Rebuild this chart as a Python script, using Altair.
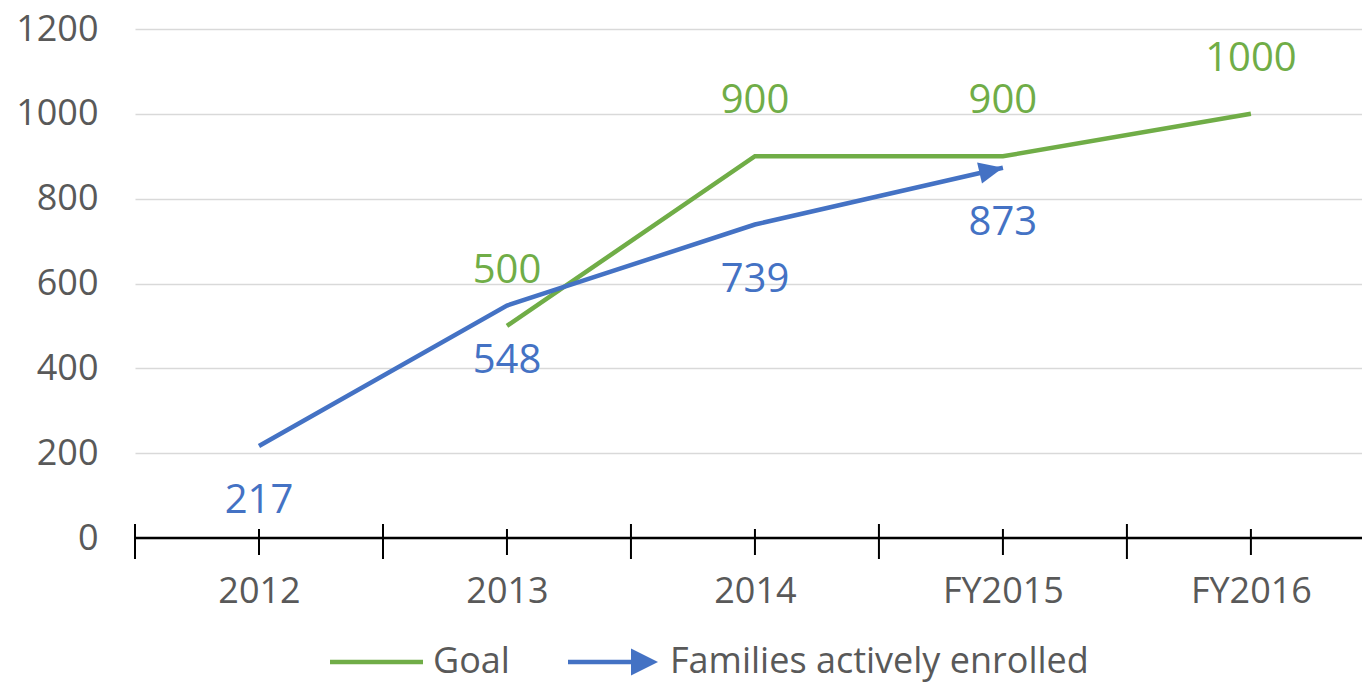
import json
import altair as alt
import pandas as pd

# ---- data ----
categories = ["2012", "2013", "2014", "FY2015", "FY2016"]
goal_values = [None, 500, 900, 900, 1000]
families_values = [217, 548, 739, 873, None]
y_ticks = [0, 200, 400, 600, 800, 1000, 1200]
series_names = ["Goal", "Families actively enrolled"]

GREEN = "#70AD47"
BLUE = "#4472C4"
GRAY = "#595959"
FONT = "Open Sans"

rows = []
for i, c in enumerate(categories):
    if goal_values[i] is not None:
        rows.append(dict(idx=i, cat=c, series=series_names[0], value=goal_values[i]))
    if families_values[i] is not None:
        rows.append(dict(idx=i, cat=c, series=series_names[1], value=families_values[i]))
df = pd.DataFrame(rows)
goal_df = df[df.series == series_names[0]]
fam_df = df[df.series == series_names[1]]
fam_last = fam_df[fam_df.idx == fam_df.idx.max()]

boundaries = pd.DataFrame({"idx": [i - 0.5 for i in range(len(categories) + 1)]})
centers = pd.DataFrame({"idx": list(range(len(categories)))})

W, H = 1227, 509
x_scale = alt.Scale(domain=[-0.5, 4.448], nice=False, zero=False)
y_scale = alt.Scale(domain=[0, 1200], nice=False)

x_axis = alt.Axis(
    values=list(range(len(categories))),
    labelExpr=f"{json.dumps(categories)}[datum.value]",
    domain=False, ticks=False, tickSize=0, grid=False,
    labelFontSize=36, labelColor=GRAY, labelFont=FONT, labelPadding=36,
    labelFlush=False, labelOverlap=False, title=None,
)
y_axis = alt.Axis(
    values=y_ticks, format="d", domain=False, ticks=False, tickSize=0, grid=True,
    gridColor="#D9D9D9", gridWidth=1.5,
    labelFontSize=36, labelColor=GRAY, labelFont=FONT, labelPadding=37,
    title=None,
)

X = alt.X("idx:Q", scale=x_scale, axis=x_axis)
Y = alt.Y("value:Q", scale=y_scale, axis=y_axis)

goal_line = alt.Chart(goal_df).mark_line(color=GREEN, strokeWidth=4.5).encode(x=X, y=Y)
fam_line = alt.Chart(fam_df).mark_line(color=BLUE, strokeWidth=4.5).encode(x=X, y=Y)
arrow = alt.Chart(fam_last).mark_point(
    shape="M0,0 L-2,-0.9 L-2,0.9 Z", filled=True, opacity=1, size=576,
    angle=347, color=BLUE, strokeWidth=0,
).encode(x=X, y=Y)
goal_text = alt.Chart(goal_df).mark_text(
    color=GREEN, font=FONT, fontSize=40, dy=-55, baseline="middle"
).encode(x=X, y=Y, text="value:Q")
fam_text = alt.Chart(fam_df).mark_text(
    color=BLUE, font=FONT, fontSize=40, dy=55, baseline="middle"
).encode(x=X, y=Y, text="value:Q")

one = pd.DataFrame({"k": [0]})
axis_rule = alt.Chart(one).mark_rule(color="#000000", strokeWidth=2.5).encode(
    x=alt.value(0), x2=alt.value(1240), y=alt.value(H)
)
long_ticks = alt.Chart(boundaries).mark_rule(color="#000000", strokeWidth=2).encode(
    x=X, y=alt.value(H - 14), y2=alt.value(H + 21)
)
short_ticks = alt.Chart(centers).mark_rule(color="#000000", strokeWidth=2).encode(
    x=X, y=alt.value(H - 9), y2=alt.value(H + 17)
)

# ---- legend ----
LY = 633
leg_goal_line = alt.Chart(one).mark_rule(color=GREEN, strokeWidth=4.5).encode(
    x=alt.value(195), x2=alt.value(288), y=alt.value(LY)
)
leg_goal_text = alt.Chart(pd.DataFrame({"t": [series_names[0]]})).mark_text(
    color=GRAY, font=FONT, fontSize=36, align="left", baseline="middle"
).encode(x=alt.value(298), y=alt.value(LY), text="t:N")
leg_fam_line = alt.Chart(one).mark_rule(color=BLUE, strokeWidth=4.5).encode(
    x=alt.value(433), x2=alt.value(505), y=alt.value(LY)
)
leg_fam_arrow = alt.Chart(one).mark_point(
    shape="M0,0 L-2,-1 L-2,1 Z", filled=True, opacity=1, size=729, color=BLUE, strokeWidth=0
).encode(x=alt.value(523), y=alt.value(LY))
leg_fam_text = alt.Chart(pd.DataFrame({"t": [series_names[1]]})).mark_text(
    color=GRAY, font=FONT, fontSize=36, align="left", baseline="middle"
).encode(x=alt.value(535), y=alt.value(LY), text="t:N")

chart = alt.layer(
    goal_line, axis_rule, long_ticks, short_ticks, fam_line, arrow,
    goal_text, fam_text,
    leg_goal_line, leg_goal_text, leg_fam_line, leg_fam_arrow, leg_fam_text,
).properties(
    width=W, height=H,
    autosize=alt.AutoSizeParams(type="none"),
    padding={"left": 127, "top": 21, "right": 0, "bottom": 146},
).configure(font=FONT).configure_view(stroke=None)

chart.save("out.html", embed_options={"renderer": "svg", "actions": False})
